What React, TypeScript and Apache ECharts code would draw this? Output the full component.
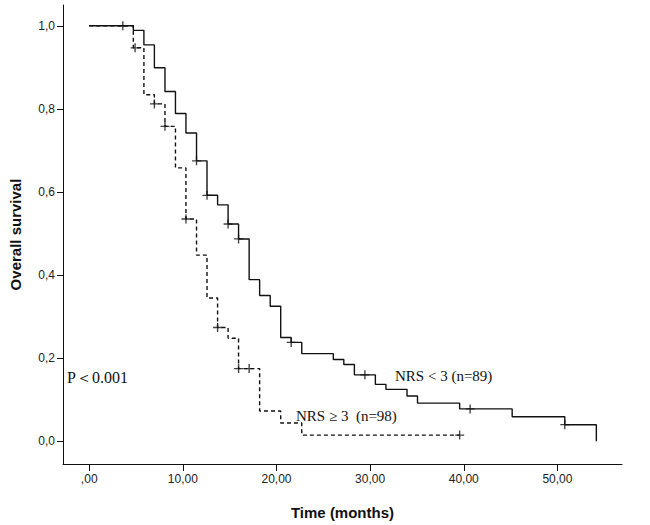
import React, { useEffect, useRef } from "react";
import * as echarts from "echarts";

// Kaplan-Meier curve, NRS < 3 (n=89): event times (months) and survival after each event
const solidTimes = [0, 4.71, 5.84, 6.96, 8.09, 9.21, 10.33, 11.46, 12.58, 13.71, 14.83, 15.95, 17.08, 18.2, 19.33, 20.45, 21.57, 22.7, 26.07, 27.19, 28.32, 30.56, 31.69, 33.94, 35.06, 39.56, 45.17, 50.79, 54.16];
const solidSurv = [1.0, 0.989, 0.954, 0.899, 0.842, 0.789, 0.742, 0.675, 0.592, 0.569, 0.523, 0.487, 0.389, 0.351, 0.325, 0.25, 0.238, 0.211, 0.197, 0.185, 0.16, 0.137, 0.125, 0.109, 0.092, 0.078, 0.059, 0.04, 0.0];
const solidCensorTimes = [3.59, 11.46, 12.58, 14.83, 15.95, 21.57, 29.44, 40.68, 50.79];
const solidCensorSurv = [1.0, 0.675, 0.592, 0.523, 0.487, 0.238, 0.16, 0.078, 0.04];

// Kaplan-Meier curve, NRS >= 3 (n=98)
const dashedTimes = [0, 4.71, 5.84, 6.96, 8.09, 9.21, 10.33, 11.46, 12.58, 13.71, 14.83, 15.95, 18.2, 20.45, 22.7, 39.56];
const dashedSurv = [1.0, 0.947, 0.834, 0.812, 0.758, 0.658, 0.535, 0.448, 0.345, 0.274, 0.248, 0.175, 0.073, 0.044, 0.015, 0.015];
const dashedCensorTimes = [4.9, 6.96, 8.09, 10.33, 13.71, 15.95, 17.08, 39.56];
const dashedCensorSurv = [0.947, 0.812, 0.758, 0.535, 0.274, 0.175, 0.175, 0.015];

const xTicks = [0, 10, 20, 30, 40, 50];
const yTicks = [0, 0.2, 0.4, 0.6, 0.8, 1.0];

const labelSolid = "NRS < 3 (n=89)";
const labelDashed = "NRS \u2265 3\u00a0 (n=98)";
const labelP = "P\uff1c0.001";

const PLUS =
  "path://M-0.75,-5 L0.75,-5 L0.75,-0.75 L5,-0.75 L5,0.75 L0.75,0.75 L0.75,5 L-0.75,5 L-0.75,0.75 L-5,0.75 L-5,-0.75 L-0.75,-0.75 Z";

const zip = (a: number[], b: number[]) => a.map((v, i) => [v, b[i]]);

export default function App() {
  const ref = useRef<HTMLDivElement>(null);
  useEffect(() => {
    document.body.style.margin = "0";
    const chart = echarts.init(ref.current!, null, { renderer: "svg" });
    const ink = "#111";
    const sans = "'Liberation Sans', Arial, sans-serif";
    const serif = "'Liberation Serif', 'Times New Roman', serif";
    chart.setOption({
      animation: false,
      backgroundColor: "#fff",
      grid: { left: 53, right: 28, top: 5, bottom: 55, containLabel: false },
      xAxis: {
        type: "value",
        min: -2.8,
        max: 56.9,
        name: "Time (months)",
        nameLocation: "middle",
        nameGap: 41,
        nameTextStyle: { fontFamily: sans, fontWeight: "bold", fontSize: 15, color: ink },
        axisLine: { show: true, onZero: false, lineStyle: { color: ink, width: 1 } },
        axisTick: { show: true, length: 7, customValues: xTicks, lineStyle: { color: ink } },
        axisLabel: {
          customValues: xTicks,
          margin: 9,
          fontFamily: sans,
          fontSize: 12,
          color: "#222",
          formatter: (v: number) => (v === 0 ? ",00" : v.toFixed(2).replace(".", ",")),
        },
        splitLine: { show: false },
      },
      yAxis: {
        type: "value",
        min: -0.0546,
        max: 1.05,
        name: "Overall survival",
        nameLocation: "middle",
        nameRotate: 90,
        nameGap: 40,
        nameTextStyle: { fontFamily: sans, fontWeight: "bold", fontSize: 15, color: ink },
        axisLine: { show: true, onZero: false, lineStyle: { color: ink, width: 1 } },
        axisTick: { show: true, length: 6, customValues: yTicks, lineStyle: { color: ink } },
        axisLabel: {
          customValues: yTicks,
          margin: 8,
          fontFamily: sans,
          fontSize: 12,
          color: "#222",
          formatter: (v: number) => v.toFixed(1).replace(".", ","),
        },
        splitLine: { show: false },
      },
      series: [
        {
          type: "line",
          step: "end",
          data: zip(solidTimes, solidSurv),
          symbol: "none",
          lineStyle: { color: ink, width: 1.4 },
        },
        {
          type: "line",
          step: "end",
          data: zip(dashedTimes, dashedSurv),
          symbol: "none",
          lineStyle: { color: ink, width: 1.4, type: [4, 3] },
        },
        {
          type: "scatter",
          data: zip(solidCensorTimes, solidCensorSurv),
          symbol: PLUS,
          symbolSize: 9,
          itemStyle: { color: ink },
        },
        {
          type: "scatter",
          data: zip(dashedCensorTimes, dashedCensorSurv),
          symbol: PLUS,
          symbolSize: 9,
          itemStyle: { color: ink },
        },
      ],
      graphic: [
        {
          type: "text",
          left: 395,
          top: 368,
          style: { text: labelSolid, fontFamily: serif, fontSize: 15, fill: ink },
        },
        {
          type: "text",
          left: 296,
          top: 408,
          style: { text: labelDashed, fontFamily: serif, fontSize: 15, fill: ink },
        },
        {
          type: "text",
          left: 67,
          top: 369,
          style: { text: labelP, fontFamily: serif, fontSize: 16, fill: ink },
        },
      ],
    });
    return () => chart.dispose();
  }, []);
  return <div ref={ref} style={{ width: 650, height: 525 }} />;
}
